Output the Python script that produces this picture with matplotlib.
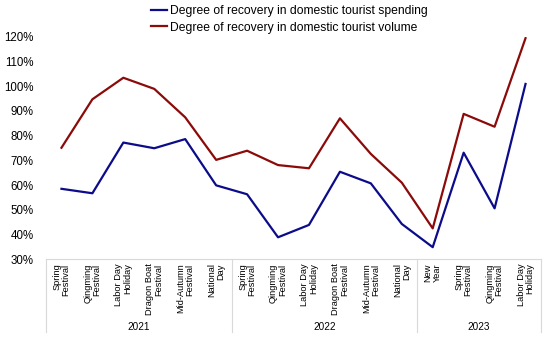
import matplotlib
matplotlib.use("Agg")
import matplotlib.pyplot as plt
import matplotlib.transforms as mtransforms

plt.rcParams['font.family'] = ['Liberation Sans', 'DejaVu Sans']

categories = [
    "Spring\nFestival", "Qingming\nFestival", "Labor Day\nHoliday",
    "Dragon Boat\nFestival", "Mid-Autumn\nFestival", "National\nDay",
    "Spring\nFestival", "Qingming\nFestival", "Labor Day\nHoliday",
    "Dragon Boat\nFestival", "Mid-Autumn\nFestival", "National\nDay",
    "New\nYear", "Spring\nFestival", "Qingming\nFestival", "Labor Day\nHoliday",
]
years = ["2021", "2022", "2023"]
year_sizes = [6, 6, 4]

spending = [58.5, 56.7, 77.2, 74.9, 78.6, 59.9, 56.3, 38.9,
            43.9, 65.4, 60.7, 44.3, 34.9, 73.1, 50.6, 100.9]
volume = [75.1, 94.7, 103.4, 98.9, 87.4, 70.2, 73.9, 68.1,
          66.8, 87.0, 72.6, 61.0, 42.5, 88.8, 83.6, 119.4]

W, H = 550, 337
fig = plt.figure(figsize=(W / 100, H / 100), dpi=100)
left, right, top, bottom = 46, 541, 36.7, 259.3
ax = fig.add_axes([left / W, 1 - bottom / H, (right - left) / W, (bottom - top) / H])

x = list(range(len(categories)))
l1, = ax.plot(x, spending, color="#0c0c8a", lw=1.6,
              label="Degree of recovery in domestic tourist spending")
l2, = ax.plot(x, volume, color="#8b0a0a", lw=1.6,
              label="Degree of recovery in domestic tourist volume")

ax.set_xlim(-0.5, len(categories) - 0.5)
ax.set_ylim(30, 120)
ax.set_yticks(range(30, 121, 10))
ax.set_yticklabels([f"{v}%" for v in range(30, 121, 10)], fontsize=8.3)
ax.tick_params(axis="y", length=0, pad=9)

ax.set_xticks(x)
ax.set_xticklabels(categories, rotation=90, fontsize=6.7)
for lab in ax.get_xticklabels():
    lab.set_multialignment("right")
    lab.set_linespacing(1.0)
ax.tick_params(axis="x", length=0, pad=3)

for s in ["left", "right", "top"]:
    ax.spines[s].set_visible(False)
ax.spines["bottom"].set_color("#d9d9d9")

# group brackets under the axis
trans = mtransforms.blended_transform_factory(ax.transData, ax.transAxes)
y_low = (bottom - 331.7) / (bottom - top)
y_year = (bottom - 327.5) / (bottom - top)
edges = [-0.5]
for n in year_sizes:
    edges.append(edges[-1] + n)
for e in edges:
    ax.plot([e, e], [0, y_low], color="#d9d9d9", lw=0.8, transform=trans, clip_on=False)
for i, yr in enumerate(years):
    ax.text((edges[i] + edges[i + 1]) / 2, y_year, yr, transform=trans,
            ha="center", va="center", fontsize=7.2)

fig.legend(handles=[l1, l2], loc="upper left", bbox_to_anchor=(143 / W, 1 + 3 / H),
           frameon=False, fontsize=8.7, handlelength=1.3, handletextpad=0.2,
           labelspacing=0.35, borderpad=0.2)

fig.savefig("out.png", dpi=100)
